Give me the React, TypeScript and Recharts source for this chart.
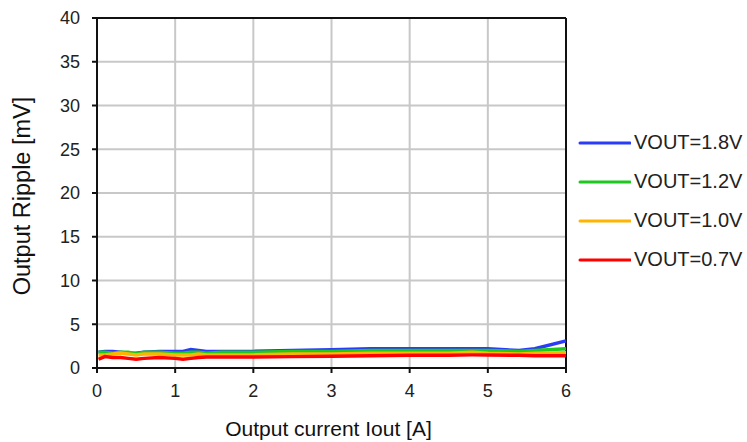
import React from 'react';
import { LineChart, Line, XAxis, YAxis, CartesianGrid, Legend, ReferenceLine } from 'recharts';

const iout = [0.02, 0.1, 0.2, 0.3, 0.4, 0.5, 0.6, 0.8, 1.0, 1.1, 1.2, 1.3, 1.4, 1.6, 2.0, 2.5, 3.0, 3.5, 4.0, 4.5, 4.8, 5.0, 5.4, 5.6, 6.0];
const vout18 = [1.8, 1.9, 1.9, 1.8, 1.7, 1.7, 1.8, 1.9, 1.9, 1.9, 2.1, 2.0, 1.9, 1.9, 1.9, 2.0, 2.1, 2.2, 2.2, 2.2, 2.2, 2.2, 2.0, 2.2, 3.1];
const vout12 = [1.8, 1.8, 1.7, 1.8, 1.8, 1.6, 1.8, 1.8, 1.7, 1.7, 1.8, 1.8, 1.7, 1.8, 1.8, 1.9, 1.9, 2.0, 2.0, 2.0, 2.0, 2.0, 1.9, 2.0, 2.2];
const vout10 = [1.5, 1.5, 1.6, 1.7, 1.6, 1.5, 1.6, 1.6, 1.5, 1.5, 1.5, 1.6, 1.5, 1.5, 1.5, 1.6, 1.6, 1.7, 1.7, 1.7, 1.8, 1.7, 1.6, 1.7, 1.75];
const vout07 = [1.0, 1.3, 1.2, 1.2, 1.1, 1.0, 1.1, 1.2, 1.1, 1.0, 1.1, 1.2, 1.25, 1.25, 1.25, 1.3, 1.35, 1.4, 1.45, 1.45, 1.5, 1.5, 1.45, 1.4, 1.4];

const xTicks = [0, 1, 2, 3, 4, 5, 6];
const yTicks = [0, 5, 10, 15, 20, 25, 30, 35, 40];

const series = [
  { key: 'v18', name: 'VOUT=1.8V', color: '#2b3cf6', values: vout18 },
  { key: 'v12', name: 'VOUT=1.2V', color: '#1ec81e', values: vout12 },
  { key: 'v10', name: 'VOUT=1.0V', color: '#ffb400', values: vout10 },
  { key: 'v07', name: 'VOUT=0.7V', color: '#ff0000', values: vout07 },
];

const data = iout.map((x, i) => {
  const row: any = { x };
  series.forEach((s) => { row[s.key] = s.values[i]; });
  return row;
});

const FONT = 'Liberation Sans, Arial, sans-serif';

const LegendContent = () => (
  <div style={{ fontFamily: FONT }}>
    {series.map((s) => (
      <div key={s.key} style={{ display: 'flex', alignItems: 'center', height: 39 }}>
        <svg width={53} height={6} style={{ display: 'block' }}>
          <line x1={2} y1={3} x2={52} y2={3} stroke={s.color} strokeWidth={3} strokeLinecap="round" />
        </svg>
        <span style={{ fontSize: 20, color: '#222', marginLeft: 3, whiteSpace: 'nowrap' }}>{s.name}</span>
      </div>
    ))}
  </div>
);

export default function App() {
  return (
    <div style={{ position: 'fixed', left: 0, top: 0, background: '#fff' }}>
      <LineChart width={747} height={442} data={data} margin={{ top: 18, right: 181, bottom: 0, left: 0 }}>
        <CartesianGrid stroke="#c8c8c8" strokeWidth={2} horizontalValues={yTicks} verticalValues={xTicks} />
        <XAxis
          dataKey="x"
          type="number"
          domain={[0, 6]}
          ticks={xTicks}
          height={74}
          tickSize={5}
          tickMargin={11}
          stroke="#111"
          strokeWidth={2}
          tick={{ fill: '#222', fontSize: 18, fontFamily: FONT }}
          label={{ value: 'Output current Iout [A]', position: 'insideBottom', offset: 6, dx: -3, fill: '#111', fontSize: 21, fontFamily: FONT }}
        />
        <YAxis
          type="number"
          domain={[0, 40]}
          ticks={yTicks}
          width={97}
          tickSize={5}
          tickMargin={12}
          stroke="#111"
          strokeWidth={2}
          tick={{ fill: '#222', fontSize: 18, fontFamily: FONT }}
          label={{ value: 'Output Ripple [mV]', angle: -90, position: 'insideLeft', offset: 22, dy: 3, fill: '#111', fontSize: 23.5, fontFamily: FONT, style: { textAnchor: 'middle' } }}
        />
        <ReferenceLine y={40} stroke="#111" strokeWidth={2} />
        <ReferenceLine x={6} stroke="#111" strokeWidth={2} />
        {series.map((s) => (
          <Line
            key={s.key}
            dataKey={s.key}
            name={s.name}
            type="linear"
            stroke={s.color}
            strokeWidth={3.5}
            dot={false}
            isAnimationActive={false}
          />
        ))}
        <Legend content={<LegendContent />} layout="vertical" verticalAlign="middle" align="center" wrapperStyle={{ position: 'absolute', left: 578, top: 123, width: 170 }} />
      </LineChart>
    </div>
  );
}
